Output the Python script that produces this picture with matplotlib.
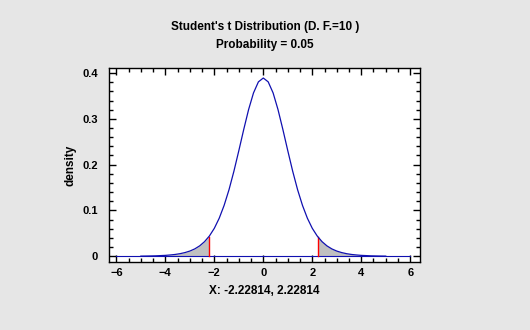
import numpy as np
import matplotlib.pyplot as plt
from matplotlib.ticker import MultipleLocator

df = 10
t_crit = 2.22814
dens_crit = 0.0424

# density of t(10) read at x = 0, 0.2, ..., 5 (symmetric about 0)
x_half = [0.0, 0.2, 0.4, 0.6, 0.8, 1.0, 1.2, 1.4, 1.6, 1.8, 2.0, 2.2, 2.4,
          2.6, 2.8, 3.0, 3.2, 3.4, 3.6, 3.8, 4.0, 4.2, 4.4, 4.6, 4.8, 5.0]
dens_half = [0.3891, 0.3807, 0.3566, 0.3203, 0.2766, 0.2304, 0.1857, 0.1454,
             0.1111, 0.0831, 0.0611, 0.0444, 0.0319, 0.0227, 0.0161, 0.0114,
             0.0081, 0.0057, 0.0040, 0.0029, 0.0020, 0.0015, 0.0010, 0.00075,
             0.00054, 0.0004]

x = np.concatenate([-np.array(x_half[:0:-1]), x_half])
dens = np.concatenate([dens_half[:0:-1], dens_half])

plt.rcParams['font.family'] = ['Liberation Sans', 'DejaVu Sans']
plt.rcParams['font.weight'] = 'bold'

fig = plt.figure(figsize=(5.3, 3.3), dpi=100, facecolor='#e6e6e6')
ax = fig.add_axes([0.2057, 0.206, 0.5868, 0.588])
ax.set_facecolor('white')

blue = '#1010b0'
ax.plot([-6, 6], [0, 0], color=blue, lw=0.8)

# shaded tails beyond the critical values
for side in (-1, 1):
    sel = (np.abs(x) > t_crit) & (np.sign(x) == side)
    fx = np.concatenate([[side * t_crit], x[sel]])
    fy = np.concatenate([[dens_crit], dens[sel]])
    order = np.argsort(fx)
    ax.fill_between(fx[order], 0, fy[order], color='#c0c0c0', lw=0)
    ax.plot([side * t_crit, side * t_crit], [0, dens_crit], color='red', lw=1.0)
ax.plot(x, dens, color=blue, lw=0.9)

ax.set_xlim(-6.3, 6.4)
ax.set_ylim(-0.0125, 0.411)
ax.xaxis.set_major_locator(MultipleLocator(2))
ax.xaxis.set_minor_locator(MultipleLocator(0.5))
ax.yaxis.set_major_locator(MultipleLocator(0.1))
ax.yaxis.set_minor_locator(MultipleLocator(0.02))
ax.yaxis.set_major_formatter(plt.FuncFormatter(lambda v, p: '0' if abs(v) < 1e-9 else f'{v:.1f}'))
ax.tick_params(which='both', direction='in', top=True, right=True, width=1.0, labelsize=8)
ax.tick_params(which='major', length=5)
ax.tick_params(which='minor', length=3)
ax.tick_params(axis='y', pad=8)
ax.tick_params(axis='x', pad=4)
for s in ax.spines.values():
    s.set_linewidth(1.0)

ax.set_ylabel('density', fontsize=8.5, fontweight='bold', labelpad=4)
ax.set_xlabel('X: -2.22814, 2.22814', fontsize=8.5, fontweight='bold', labelpad=5)
fig.text(0.5, 0.918, "Student's t Distribution (D. F.=10 )", ha='center', va='center',
         fontsize=8.5, fontweight='bold')
fig.text(0.5, 0.864, 'Probability = 0.05', ha='center', va='center',
         fontsize=8.5, fontweight='bold')

fig.savefig('out.png', dpi=100, facecolor=fig.get_facecolor())
